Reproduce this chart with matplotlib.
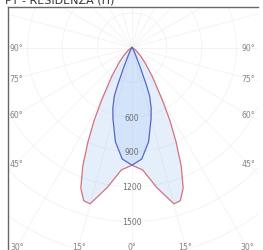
import numpy as np
from matplotlib import pyplot as plt

# Photometric data (angle from nadir in deg, intensity in cd)
angles_c0 = np.array([0, 5, 10, 15, 17.5, 20, 22.5, 25, 27.5, 30, 35, 40, 45, 50, 55, 60, 70, 80, 90])
cd_c0 = np.array([1015, 1060, 1225, 1395, 1385, 1290, 1110, 900, 705, 525, 305, 180, 105, 60, 35, 18, 5, 0, 0])

angles_c90 = np.array([0, 5, 10, 15, 17.5, 20, 21, 22.5, 25, 30, 40, 50, 90])
cd_c90 = np.array([1015, 965, 825, 635, 550, 445, 340, 190, 80, 30, 6, 0, 0])

ring_values = [600, 900, 1200, 1500]
angle_ticks = [0, 15, 30, 45, 60, 75, 90]
title = 'PT - RESIDENZA (H)'

W, H = 263, 251
fig = plt.figure(figsize=(W / 100, H / 100), dpi=100)
ax = fig.add_axes([8 / W, 0, 250 / W, 1 - 7.5 / H])

# pixel scale: 0.116 px per cd, centre at (132, 48.5) px
s = 0.116
ax.set_xlim((8 - 132) / s, (258 - 132) / s)
ax.set_ylim(-(251 - 48.5) / s, (48.5 - 7.5) / s)
ax.set_xticks([])
ax.set_yticks([])
for side in ['right', 'bottom']:
    ax.spines[side].set_visible(False)
for side in ['left', 'top']:
    ax.spines[side].set_color('#666666')
    ax.spines[side].set_linewidth(1.0)

# polar grid (very faint)
grid_kw = dict(color='#f2f2f2', linewidth=0.6, zorder=0)
t = np.linspace(0, 2 * np.pi, 400)
for r in range(300, 2400, 300):
    ax.plot(r * np.cos(t), r * np.sin(t), **grid_kw)
for a in range(0, 360, 15):
    ar = np.radians(a)
    ax.plot([0, 3000 * np.sin(ar)], [0, -3000 * np.cos(ar)], **grid_kw)


def curve(angles, cd):
    th = np.radians(np.concatenate([-angles[::-1], angles[1:]]))
    r = np.concatenate([cd[::-1], cd[1:]])
    return r * np.sin(th), -r * np.cos(th)


for angles, cd, col in [(angles_c0, cd_c0, '#d6707a'), (angles_c90, cd_c90, '#5a64c8')]:
    x, y = curve(angles, cd)
    ax.fill(x, y, color='#9cc3f5', alpha=0.26, linewidth=0, zorder=1)
    ax.plot(x, y, color=col, linewidth=0.9, zorder=2)

# intensity labels
for v in ring_values:
    ax.text(0, -v, str(v), ha='center', va='center', fontsize=5.6, color='#707070', zorder=3)

# angle labels on inset frame
rx, ry = 116 / s, 199.5 / s
for a in angle_ticks:
    ar = np.radians(a)
    d = min(rx / np.sin(ar) if a else 1e9, ry / np.cos(ar) if a < 90 else 1e9)
    for sign in ([1] if a == 0 else [-1, 1]):
        ax.text(sign * d * np.sin(ar), -d * np.cos(ar), '%d°' % a, ha='center', va='center',
                fontsize=5.6, color='#858585', zorder=3)

fig.text(5 / W, 1 - 3.5 / H, title, ha='left', va='baseline', fontsize=8, color='#333333')

plt.savefig('out.png', dpi=100)
